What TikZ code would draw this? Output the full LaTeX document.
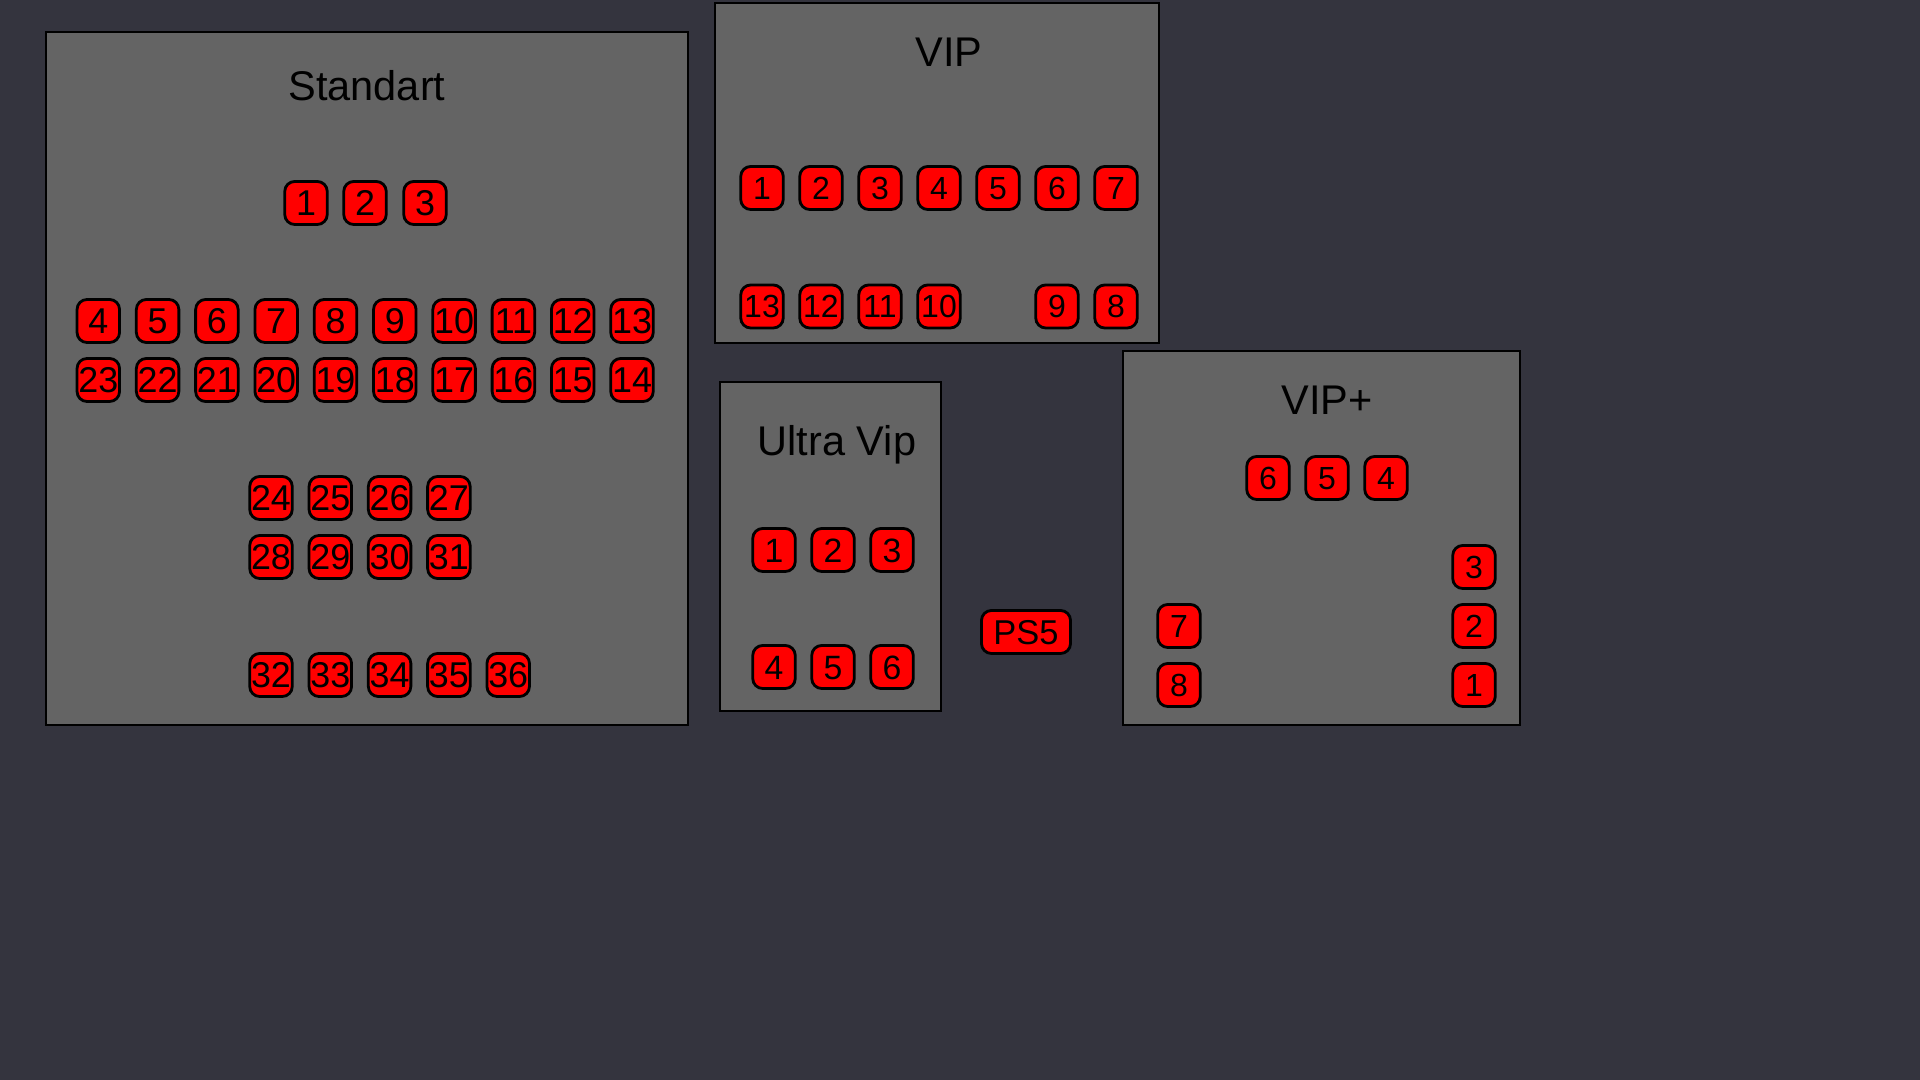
\documentclass[tikz,border=0pt]{standalone}
\usepackage{fontspec}
\setmainfont{Liberation Sans}
\usepackage{tikz}
\usetikzlibrary{calc}
\definecolor{roombg}{RGB}{52,52,62}
\definecolor{zonegray}{RGB}{100,100,100}
\tikzstyle{seat}=[rectangle,rounded corners=0.1cm,fill=red,draw=black,line width=0.8pt,minimum width=0.425cm,minimum height=0.43cm,inner sep=0pt,text height=0.23cm,text depth=0pt,font=\fontsize{9.1}{10}\selectfont]
\tikzstyle{stdseat}=[seat,text height=0.26cm,font=\fontsize{10.2}{12}\selectfont]
\tikzstyle{ultraseat}=[seat,text height=0.245cm,font=\fontsize{9.6}{11}\selectfont]
\tikzstyle{wideseat}=[seat,minimum width=0.89cm,text height=0.25cm,font=\fontsize{9.8}{11}\selectfont]
\tikzstyle{zone}=[draw=black,line width=0.8pt,fill=zonegray]
\tikzstyle{zonetitle}=[anchor=base,inner sep=0pt,font=\fontsize{11.8}{14}\selectfont]

\begin{document}
\begin{tikzpicture}[x=0.01cm,y=-0.01cm]

   \fill[roombg] (0,0) rectangle (1920,1080);
   \useasboundingbox (0,0) rectangle (1920,1080);

   % Standart
   \draw[zone] (46,32) rectangle (688,725);
   \node[zonetitle] (tstd) at (367,101) {Standart};
    \foreach \pos/ \name / \label in {(306,203)/S1/1,(365,203)/S2/2,(425,203)/S3/3}
        \node[stdseat] (\name) at \pos {\label};
    \foreach \i in {0,...,9} {
        \pgfmathtruncatemacro{\na}{4+\i}
        \pgfmathtruncatemacro{\nb}{23-\i}
        \node[stdseat] (S\na) at (98.3+59.3*\i,321) {\na};
        \node[stdseat] (S\nb) at (98.3+59.3*\i,380) {\nb};
    }
    \foreach \i in {0,...,3} {
        \pgfmathtruncatemacro{\na}{24+\i}
        \pgfmathtruncatemacro{\nb}{28+\i}
        \node[stdseat] (S\na) at (271+59.3*\i,498) {\na};
        \node[stdseat] (S\nb) at (271+59.3*\i,557) {\nb};
    }
    \foreach \i in {0,...,4} {
        \pgfmathtruncatemacro{\na}{32+\i}
        \node[stdseat] (S\na) at (271+59.3*\i,675) {\na};
    }

   % VIP
   \draw[zone] (715,3) rectangle (1159,343);
   \node[zonetitle] (tvip) at (949,67) {VIP};
    \foreach \i in {1,...,7}
        \node[seat] (V\i) at (762+59*\i-59,188) {\i};
    \foreach \pos/ \name / \label in {(762,306.5)/V13/13,(821,306.5)/V12/12,(880,306.5)/V11/11,(939,306.5)/V10/10,(1057,306.5)/V9/9,(1116,306.5)/V8/8}
        \node[seat] (\name) at \pos {\label};

   % Ultra Vip
   \draw[zone] (720,382) rectangle (941,711);
   \node[zonetitle] (tultra) at (837,456) {Ultra Vip};
    \foreach \i in {1,2,3} {
        \pgfmathtruncatemacro{\na}{3+\i}
        \node[ultraseat] (U\i) at (774+59*\i-59,550) {\i};
        \node[ultraseat] (U\na) at (774+59*\i-59,667) {\na};
    }

   \node[wideseat] (ps5) at (1026,632) {PS5};

   % VIP+
   \draw[zone] (1123,351) rectangle (1520,725);
   \node[zonetitle] (tvipplus) at (1327,415) {VIP+};
    \foreach \pos/ \name / \label in {(1268,478)/P6/6,(1327,478)/P5/5,(1386,478)/P4/4,(1474,567)/P3/3,(1474,626)/P2/2,(1474,685)/P1/1,(1179,626)/P7/7,(1179,685)/P8/8}
        \node[seat] (\name) at \pos {\label};

\end{tikzpicture}
\end{document}
